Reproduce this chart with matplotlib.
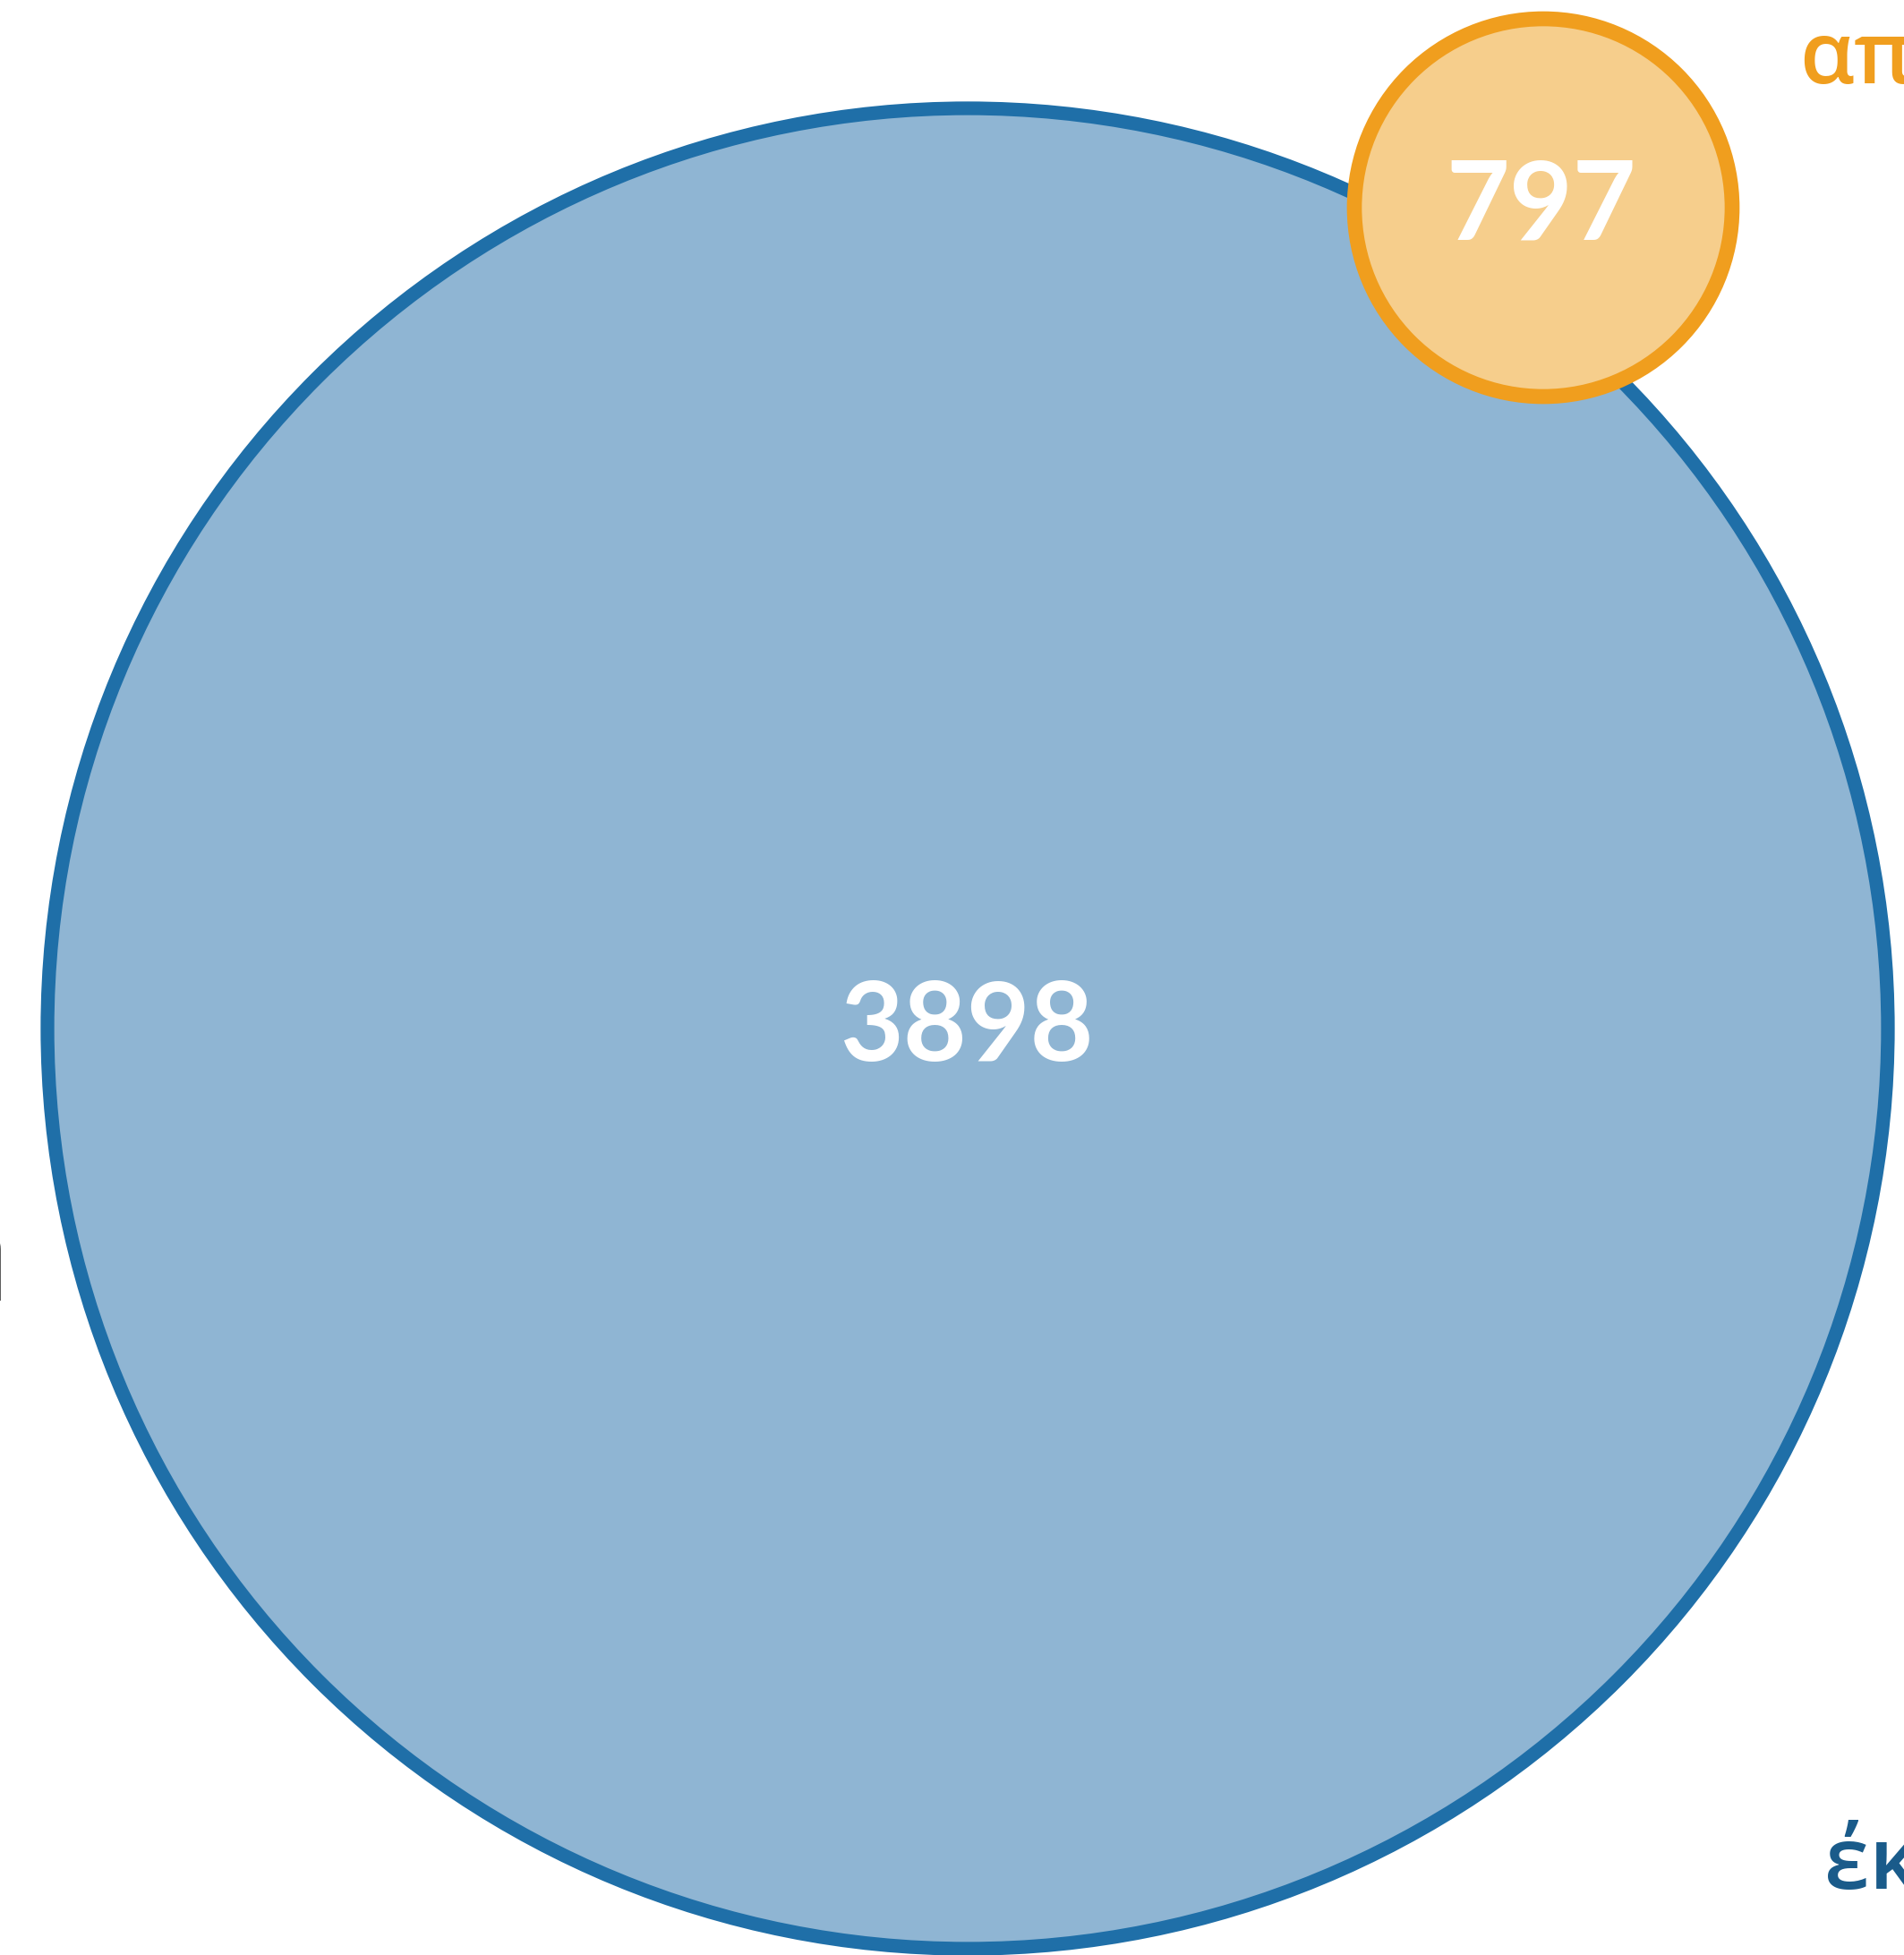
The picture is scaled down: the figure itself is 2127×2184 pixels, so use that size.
import matplotlib
matplotlib.use("Agg")
import matplotlib.pyplot as plt
from matplotlib.patches import Circle

# data
set_labels = ["έκδοση", "απόφαση"]
counts = [3898, 797]
other_label = "η"

# layout (pixels of the output image)
W, H = 2127, 2184
DPI = 100
big_center, big_r = (1081, 1149), 1028
small_center, small_r = (1724, 232), 211

fig = plt.figure(figsize=(W / DPI, H / DPI), dpi=DPI)
ax = fig.add_axes([0, 0, 1, 1])
ax.set_xlim(0, W)
ax.set_ylim(H, 0)
ax.set_aspect("equal")
ax.axis("off")

num_fam = ["Lato", "DejaVu Sans"]
lab_fam = ["Open Sans", "DejaVu Sans"]

ax.add_patch(Circle(big_center, big_r, facecolor="#8fb5d3", edgecolor="#1f6fa8",
                    linewidth=11, zorder=1))
ax.add_patch(Circle(small_center, small_r, facecolor="#f6ce8c", edgecolor="#f09e1e",
                    linewidth=12, zorder=2))

ax.text(big_center[0], 1150, str(counts[0]), color="white", fontsize=88,
        fontweight="bold", family=num_fam, ha="center", va="center", zorder=3)
ax.text(1722, 233, str(counts[1]), color="white", fontsize=88,
        fontweight="bold", family=num_fam, ha="center", va="center", zorder=3)

ax.text(2010, 93, set_labels[1], color="#f09e1e", fontsize=70,
        fontweight="semibold", family=lab_fam, ha="left", va="baseline", zorder=3)
ax.text(2038, 2110, set_labels[0], color="#1a5b8a", fontsize=70,
        fontweight="semibold", family=lab_fam, ha="left", va="baseline", zorder=3)
ax.text(8, 1430, other_label, color="black", fontsize=70,
        family=lab_fam, ha="right", va="baseline", zorder=3)

fig.savefig("out.png", dpi=DPI)
